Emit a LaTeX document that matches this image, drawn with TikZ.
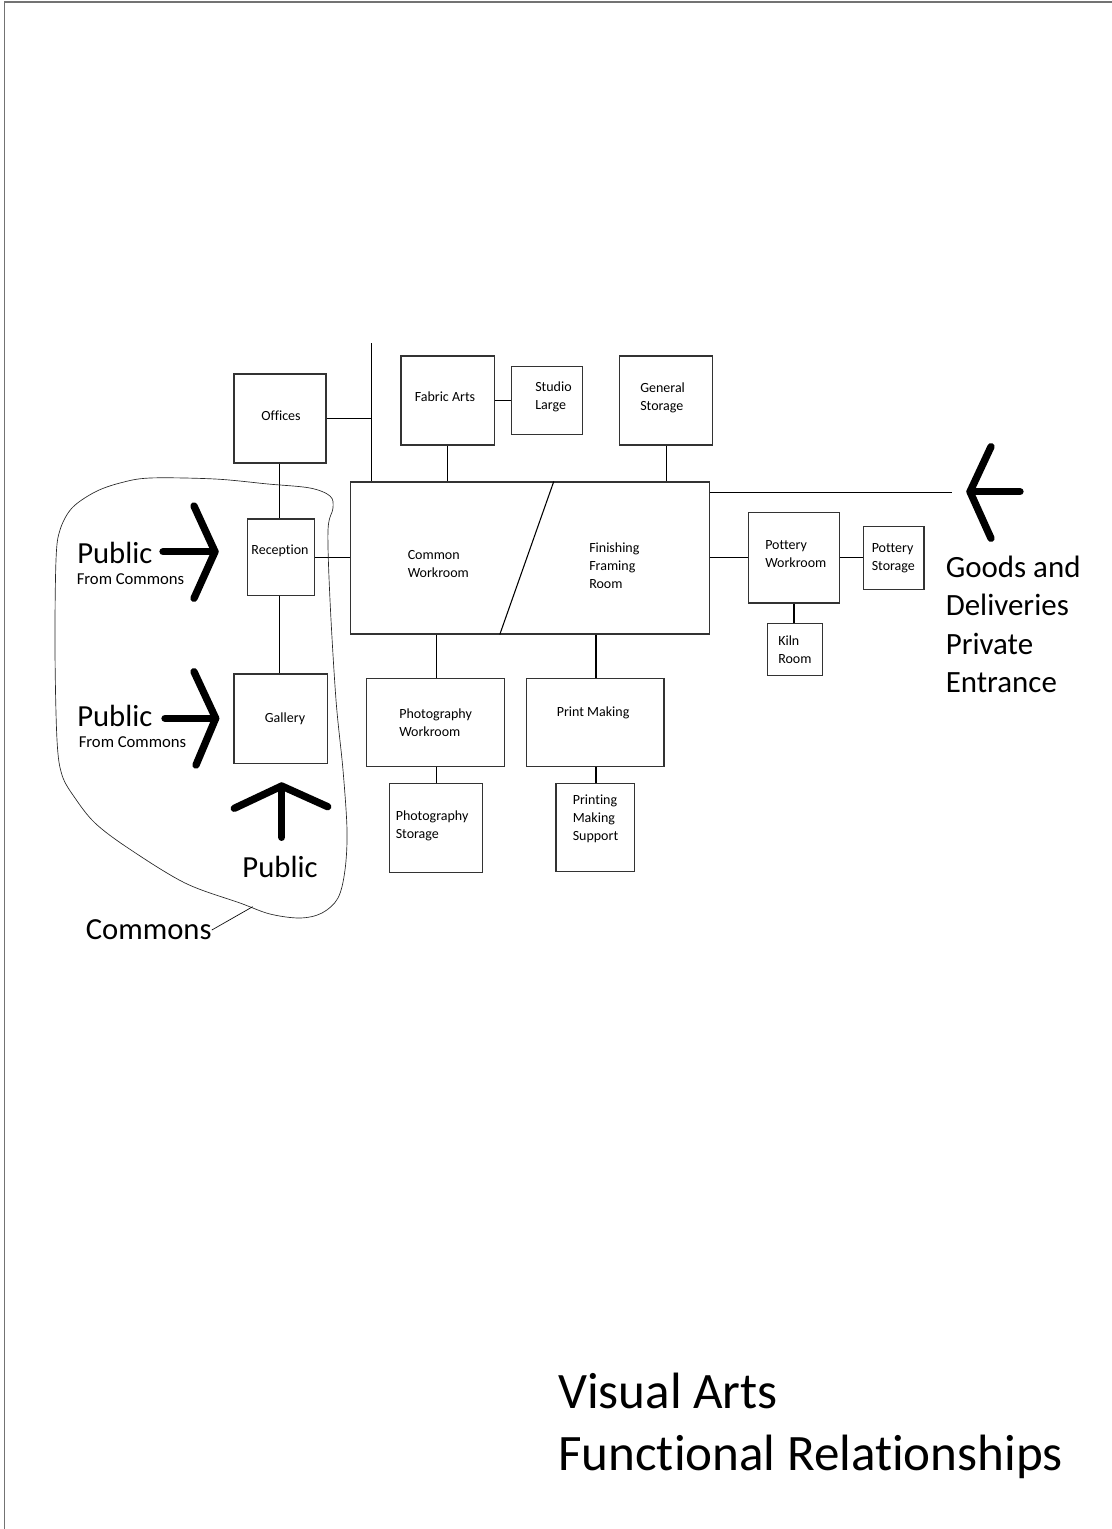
\documentclass[tikz,border=0pt]{standalone}
\usepackage{fontspec}
\setmainfont{Carlito}[RawFeature={-liga;-clig;-calt;-dlig}]
\usetikzlibrary{fit,calc}
\begin{document}
\begin{tikzpicture}[x=0.75pt,y=-0.75pt,
  room/.style={draw=black!80, line width=0.8pt, inner sep=0pt},
  wire/.style={draw=black, line width=0.8pt},
  small/.style={inner sep=0pt, align=left, font=\fontsize{10.5}{13.5}\selectfont},
  big/.style={inner sep=0pt, align=left, font=\fontsize{23}{29}\selectfont},
  sub/.style={inner sep=0pt, font=\fontsize{12.5}{15}\selectfont},
  title/.style={inner sep=0pt, align=left, font=\fontsize{38.3}{46.5}\selectfont},
  fat/.style={line width=5.5pt, line cap=round, line join=round},
  blob/.style={line width=0.5pt, draw=black!85},
]
\useasboundingbox (0,0) rectangle (1112,1529);
% page frame
\draw[black!55, line width=1pt] (4.5,1529) -- (4.5,2) -- (1112,2);

% rooms
\node[room, fit={(234,374) (326,463)}] (offices) {};
\node[room, fit={(401,356) (494.3,445)}] (fabric) {};
\node[room, fit={(511.7,366.7) (582.7,434.3)}] (studio) {};
\node[room, fit={(619.7,356) (712.7,445)}] (general) {};
\node[room, fit={(350.7,482) (709.3,634)}] (common) {};
\node[room, fit={(247.3,519) (314.3,595.7)}] (reception) {};
\node[room, fit={(234,674) (327.3,763.3)}] (gallery) {};
\node[room, fit={(748.3,512.7) (839.7,603)}] (pottery) {};
\node[room, fit={(863.3,526.3) (924,589.3)}] (potstore) {};
\node[room, fit={(767.3,623.3) (822.3,675.3)}] (kiln) {};
\node[room, fit={(366.7,678.3) (504.3,766.7)}] (photow) {};
\node[room, fit={(526.7,678.3) (664,766.7)}] (print) {};
\node[room, fit={(389.3,783.3) (482.3,872.7)}] (photos) {};
\node[room, fit={(556,783.3) (634.7,871.7)}] (printsup) {};

% diagonal split of the common room
\draw[wire] ($(common.north west)+(203.6,0)$) -- ($(common.south west)+(149.6,0)$);

% room texts
\node[small] (t-offices) at (281,416) {Offices};
\node[small] (t-fabric) at (445,397) {Fabric Arts};
\node[small, anchor=west] (t-studio) at (535,396.5) {Studio\\Large};
\node[small, anchor=west] (t-general) at (640,397.5) {General\\Storage};
\node[small] (t-reception) at (280,551) {Reception};
\node[small] (t-gallery) at (285,718.5) {Gallery};
\node[small, anchor=west] (t-common) at (407.5,564) {Common\\Workroom};
\node[small, anchor=west] (t-finish) at (589,565.5) {Finishing\\Framing\\Room};
\node[small, anchor=west] (t-pottery) at (765,554.5) {Pottery\\Workroom};
\node[small, anchor=west] (t-potstore) at (871.5,558.5) {Pottery\\Storage};
\node[small, anchor=west] (t-kiln) at (778,649.5) {Kiln\\Room};
\node[small, anchor=west] (t-photow) at (399,723) {Photography\\Workroom};
\node[small, anchor=west] (t-print) at (556.5,713) {Print Making};
\node[small, anchor=west] (t-photos) at (395.5,826) {Photography\\Storage};
\node[small, anchor=west] (t-printsup) at (572.5,819) {Printing\\Making\\Support};

% connectors
\coordinate (vtop) at (371.7,343);
\coordinate (goodsend) at (952.3,492.3);
\draw[wire] (vtop) -- (vtop |- common.north);
\draw[wire] (offices.east) -- (offices.east -| vtop);
\draw[wire] (fabric.south) -- (fabric.south |- common.north);
\draw[wire] (fabric.east) -- (fabric.east -| studio.west);
\draw[wire] (general.south) -- (general.south |- common.north);
\draw[wire] (goodsend -| common.east) -- (goodsend);
\draw[wire] (offices.south -| 279.3,0) -- (reception.north -| 279.3,0);
\draw[wire] (reception.east) -- (reception.east -| common.west);
\draw[wire] (reception.south -| 279.3,0) -- (gallery.north -| 279.3,0);
\draw[wire] (common.east |- 0,557.3) -- (pottery.west |- 0,557.3);
\draw[wire] (pottery.east |- 0,557.3) -- (potstore.west |- 0,557.3);
\draw[wire] (pottery.south) -- (pottery.south |- kiln.north);
\draw[wire] (common.south -| 436.7,0) -- (photow.north -| 436.7,0);
\draw[wire] (common.south -| 596,0) -- (print.north -| 596,0);
\draw[wire] (photow.south -| 436.7,0) -- (photos.north -| 436.7,0);
\draw[wire] (print.south -| 596,0) -- (printsup.north -| 596,0);

% commons outline
\draw[blob] plot[smooth cycle, tension=0.55] coordinates {
 (150,478) (215,479) (268,484) (310,488) (330,496) (333,508) (328,530)
 (330,600) (336,700) (343,770) (347,830) (345,870) (338,898) (322,913)
 (300,918) (270,914) (240,903) (185,883) (128,848) (95,823) (75,798)
 (62,775) (57,740) (55,650) (56,560) (60,530) (72,508) (95,492) (120,483)};
\node[big, anchor=west] (commons) at (85.5,930) {Commons};
\coordinate (commonsleader) at (252.7,906.7);
\draw[line width=0.5pt] (commons.east) -- (commonsleader);

% public entrances
\coordinate (tip1) at (215,551.7);
\draw[fat] (163,551.7) -- (tip1);
\draw[fat] (194,506) -- (tip1) -- (194,598.3);
\node[big, anchor=west] (pub1) at (77,553) {Public};
\node[sub, anchor=west] (from1) at (76.5,579) {From Commons};

\coordinate (tip2) at (215.7,718.3);
\draw[fat] (165,718.3) -- (tip2);
\draw[fat] (194,671.7) -- (tip2) -- (196,765);
\node[big, anchor=west] (pub2) at (77,716) {Public};
\node[sub, anchor=west] (from2) at (78.5,742) {From Commons};

\coordinate (tip3) at (281.7,786);
\draw[fat] (281.7,837.3) -- (tip3);
\draw[fat] (234.3,808.3) -- (tip3) -- (327.7,806.7);
\node[big] (pub3) at (280,867) {Public};

% goods entrance
\coordinate (tip4) at (970,491.7);
\draw[fat] (1020,491.7) -- (tip4);
\draw[fat] (991,446.7) -- (tip4) -- (991,538.3);
\node[inner sep=0pt, align=left, anchor=west, font=\fontsize{23.2}{28.9}\selectfont] (goods) at (945.5,624.5) {Goods and\\Deliveries\\Private\\Entrance};

% title
\node[title, anchor=west] (ttl) at (558,1426) {Visual Arts\\Functional Relationships};
\end{tikzpicture}
\end{document}
